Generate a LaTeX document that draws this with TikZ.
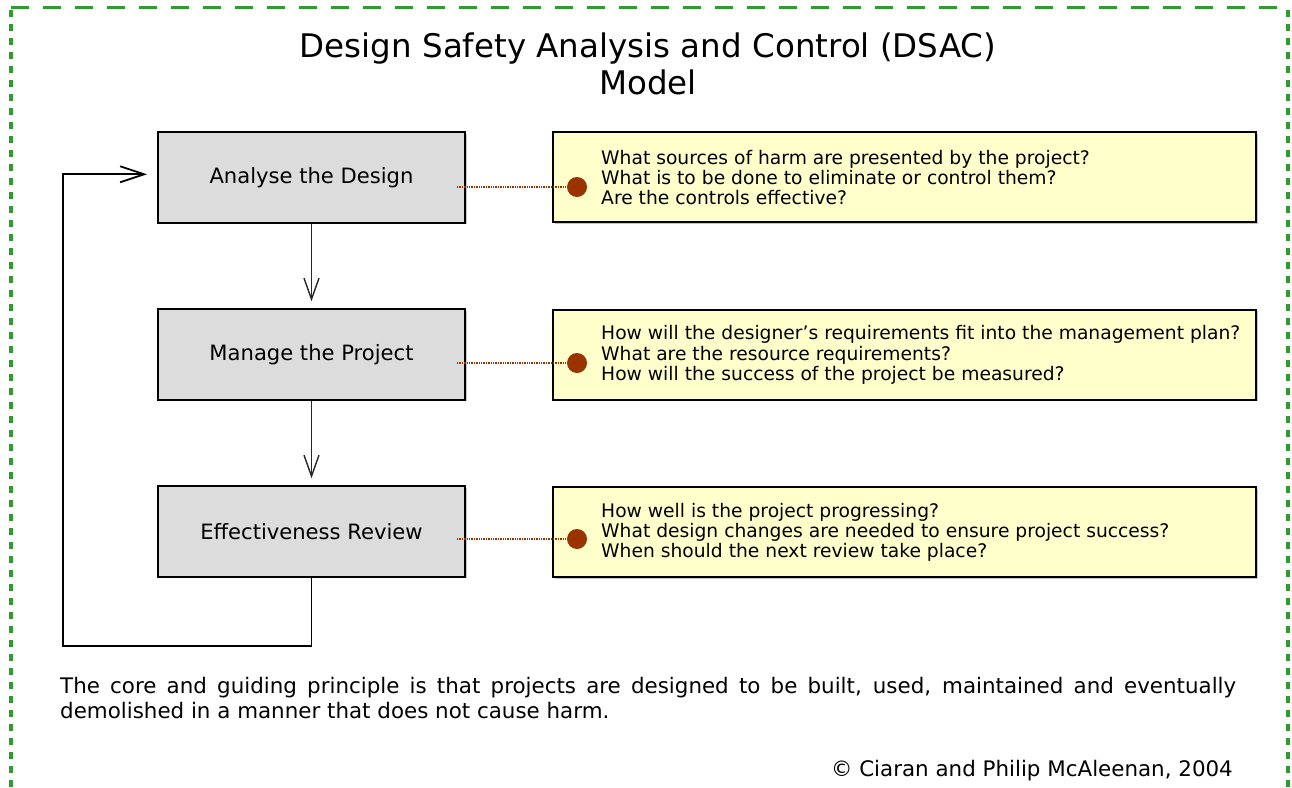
\documentclass[tikz,border=0pt]{standalone}
\usepackage{fontspec}
\setmainfont{DejaVu Sans}
\usetikzlibrary{arrows.meta,calc,shadows}
\definecolor{bordergreen}{HTML}{339933}
\definecolor{boxgrey}{HTML}{DCDCDC}
\definecolor{noteyellow}{HTML}{FFFFCC}
\definecolor{dotbrown}{HTML}{993300}
\begin{document}
\begin{tikzpicture}[x=1pt,y=-1pt,
  stepbox/.style={draw, line width=2pt, fill=boxgrey, minimum width=307pt, minimum height=90.5pt, inner sep=0,
    font=\fontsize{21.1}{24}\selectfont, drop shadow={shadow xshift=1.5pt, shadow yshift=-1.5pt, opacity=.45, fill=gray}},
  notebox/.style={draw, line width=2pt, fill=noteyellow, minimum width=703pt, minimum height=90pt, inner sep=0,
    drop shadow={shadow xshift=1.5pt, shadow yshift=-1.5pt, opacity=.45, fill=gray}},
  notetext/.style={anchor=west, align=left, inner sep=0, font=\fontsize{18.7}{20.3}\selectfont},
  marker/.style={circle, fill=dotbrown, minimum size=20pt, inner sep=0},
  leader/.style={dotbrown, line width=1.3pt, dash pattern=on 1.3pt off 1.1pt},
  flow/.style={draw=black!85, line width=1.4pt, -{Straight Barb[length=21pt,width=15pt]}},
  loopback/.style={line width=1.8pt, -{Straight Barb[length=24pt,width=16pt]}},
  bodytext/.style={inner sep=0, font=\fontsize{21.4}{25}\selectfont},
]
\useasboundingbox (0,0) rectangle (1292,787);
\fill[white] (0,0) rectangle (1292,787);

% dashed green frame, open at the bottom
\draw[bordergreen, line width=3pt, dash pattern=on 18pt off 14pt] (10.5,7.5) -- (1287.5,7.5);
\draw[bordergreen, line width=4pt, dash pattern=on 7pt off 7pt] (10.5,10) -- (10.5,787);
\draw[bordergreen, line width=4pt, dash pattern=on 7pt off 7pt] (1287.5,10) -- (1287.5,787);

% title
\node[anchor=base, inner sep=0, font=\fontsize{32.5}{37}\selectfont] (title1) at (648,57) {Design Safety Analysis and Control (DSAC)};
\node[anchor=base, inner sep=0, font=\fontsize{32.5}{37}\selectfont] (title2) at (648,94) {Model};

% process steps
\node[stepbox] (analyse) at (311.5,177.25) {Analyse the Design};
\node[stepbox] (manage)  at (311.5,354.5)  {Manage the Project};
\node[stepbox] (review)  at (311.5,531.5)  {Effectiveness Review};

% question panels
\node[notebox] (q1) at (904.5,177) {};
\node[notebox] (q2) at (904.5,354.5) {};
\node[notebox] (q3) at (904.5,532) {};

\node[notetext] (t1) at (601,177.5) {What sources of harm are presented by the project?\\What is to be done to eliminate or control them?\\Are the controls effective?};
\node[notetext] (t2) at (601,355) {How will the designer’s requirements fit into the management plan?\\What are the resource requirements?\\How will the success of the project be measured?};
\node[notetext] (t3) at (601,532.5) {How well is the project progressing?\\What design changes are needed to ensure project success?\\When should the next review take place?};

% markers and dotted leaders
\node[marker] (m1) at (577,187) {};
\node[marker] (m2) at (577,363) {};
\node[marker] (m3) at (577,539) {};
\draw[leader] ($(m1 -| analyse.east)+(-9,0)$) -- (m1);
\draw[leader] ($(m2 -| manage.east)+(-9,0)$) -- (m2);
\draw[leader] ($(m3 -| review.east)+(-9,0)$) -- (m3);

% flow between steps
\draw[flow, shorten >=7pt] (analyse) -- (manage);
\draw[flow, shorten >=7pt] (manage) -- (review);

% feedback loop
\coordinate (loopcorner) at (63,646);
\draw[loopback, shorten >=10pt] (review.south) |- (loopcorner) |- ([yshift=3pt]analyse.west);

% principle and credit
\node[bodytext, anchor=base west] (p1) at (60,693) {\makebox[1176pt][s]{The core and guiding principle is that projects are designed to be built, used, maintained and eventually}};
\node[bodytext, anchor=base west] (p2) at (60,718.5) {demolished in a manner that does not cause harm.};
\node[bodytext, anchor=base east] (credit) at (1233,776) {© Ciaran and Philip McAleenan, 2004};
\end{tikzpicture}
\end{document}
